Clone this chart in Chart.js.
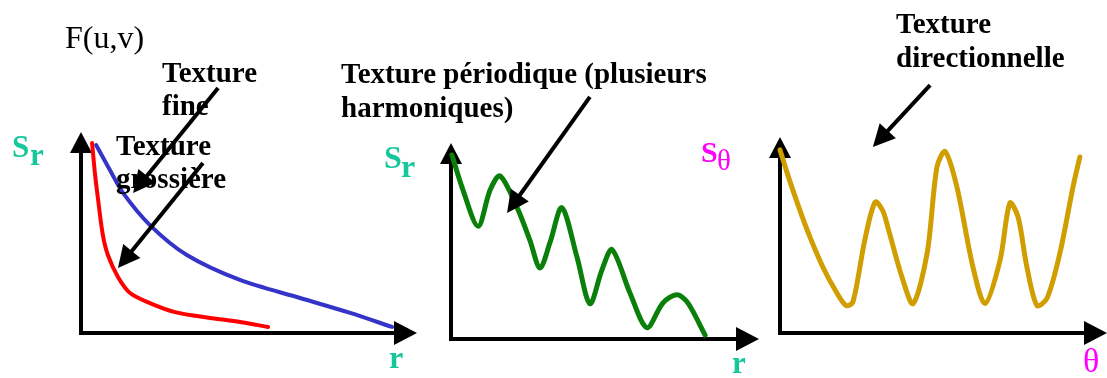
<!DOCTYPE html>
<html>
<head>
<meta charset="utf-8">
<script src="https://cdn.jsdelivr.net/npm/chart.js@4.4.1/dist/chart.umd.min.js"></script>
<style>
  html, body { margin: 0; padding: 0; background: #fff; }
  #wrap { position: relative; width: 1107px; height: 378px; overflow: hidden; }
  canvas { position: absolute; left: 0; top: 0; }
  #notes { z-index: 5; }
  .lbl { position: absolute; z-index: 3; font-family: "Liberation Serif", "Times New Roman", serif;
         font-weight: bold; font-size: 29px; line-height: 33px; color: #000; white-space: nowrap; }
  .sym { position: absolute; z-index: 3; font-family: "Liberation Serif", "Times New Roman", serif;
         font-weight: bold; line-height: 1; white-space: nowrap; }
  .teal { color: #17c79c; }
  .mag { color: #ff00ff; }
</style>
</head>
<body>
<div id="wrap">
  <canvas id="c1" width="1107" height="378"></canvas>
  <canvas id="c2" width="1107" height="378"></canvas>
  <canvas id="c3" width="1107" height="378"></canvas>
  <canvas id="notes" width="1107" height="378"></canvas>

  <div class="sym" style="left:65px; top:21px; font-size:32px; font-weight:normal;">F(u,v)</div>
  <div class="lbl" style="left:162px; top:56px;">Texture<br>fine</div>
  <div class="lbl" style="left:116px; top:129px;">Texture<br>grossière</div>
  <div class="lbl" style="left:341px; top:56px; line-height:34px;">Texture périodique (plusieurs<br>harmoniques)</div>
  <div class="lbl" style="left:896px; top:6px; line-height:34px;">Texture<br>directionnelle</div>

  <div class="sym teal" style="left:12px; top:131px; font-size:31px;">S</div>
  <div class="sym teal" style="left:30px; top:139px; font-size:31px;">r</div>
  <div class="sym teal" style="left:389px; top:341px; font-size:32px;">r</div>

  <div class="sym teal" style="left:384px; top:141px; font-size:32px;">S</div>
  <div class="sym teal" style="left:401px; top:150px; font-size:32px;">r</div>
  <div class="sym teal" style="left:732px; top:347px; font-size:31px;">r</div>

  <div class="sym mag" style="left:701px; top:137px; font-size:30px;">S</div>
  <div class="sym mag" style="left:717px; top:146px; font-size:29px; font-weight:normal;">θ</div>
  <div class="sym mag" style="left:1083px; top:344px; font-size:34px; font-weight:normal;">θ</div>
</div>

<script>
// Panel 1 : radial spectrum, fine vs coarse texture
const fineR = [4.5, 8.6, 12.5, 20.5, 31.5, 47.3, 65.2, 80.1, 92.6];
const fineS = [93.5, 81.1, 69.7, 53.7, 38.8, 26.4, 17.4, 10.0, 3.0];
const coarseR = [3.3, 4.2, 5.1, 6.5, 8.0, 11.0, 14.6, 20.5, 28.0, 38.4, 47.3, 55.7];
const coarseS = [94.5, 78.6, 66.2, 48.8, 38.8, 27.9, 19.9, 14.9, 10.4, 7.5, 5.5, 3.0];

// Panel 2 : periodic texture (several harmonics)
const periodR = [0.3, 3.9, 8.8, 12.7, 15.9, 21.4, 25.6, 28.9, 32.1, 36.0, 40.9, 45.1, 49.0, 52.3, 58.1, 63.6, 68.8, 73.4, 76.9, 82.5];
const periodS = [93.9, 76.0, 57.5, 76.0, 83.2, 67.3, 50.5, 36.2, 49.0, 67.0, 41.8, 18.0, 35.2, 45.6, 23.5, 5.8, 18.4, 22.6, 18.4, 2.0];

// Panel 3 : directional texture, angular spectrum
const dirTheta = [0, 3.1, 8.3, 13.1, 17.4, 20.2, 22.3, 26.0, 29.1, 31.4, 33.2, 37.3, 40.7, 45.0, 48.0, 50.5, 54.1, 59.0, 62.7, 67.3, 70.3, 72.8, 75.5, 78.6, 81.7, 85.6, 89.6, 91.7];
const dirS = [93.4, 77.0, 52.6, 33.7, 20.4, 14.0, 15.8, 48.0, 66.8, 62.5, 52.6, 28.6, 15.0, 40.8, 84.7, 92.6, 74.5, 33.7, 15.0, 37.2, 66.3, 59.2, 33.7, 14.0, 17.9, 40.8, 74.5, 89.8];

const pts = (xs, ys) => xs.map((x, i) => ({ x: x, y: ys[i] }));

function arrowHead(ctx, x1, y1, x2, y2, len, half) {
  const a = Math.atan2(y2 - y1, x2 - x1);
  const bx = x2 - len * Math.cos(a), by = y2 - len * Math.sin(a);
  ctx.beginPath();
  ctx.moveTo(x2, y2);
  ctx.lineTo(bx + half * Math.sin(a), by - half * Math.cos(a));
  ctx.lineTo(bx - half * Math.sin(a), by + half * Math.cos(a));
  ctx.closePath();
  ctx.fill();
}

// axes drawn as black arrows along the chart area edges
const axisArrows = {
  id: 'axisArrows',
  beforeDatasetsDraw(chart) {
    const { ctx, chartArea: a } = chart;
    ctx.save();
    ctx.strokeStyle = '#000';
    ctx.fillStyle = '#000';
    ctx.lineWidth = 4;
    ctx.beginPath();
    ctx.moveTo(a.left, a.top + 12);
    ctx.lineTo(a.left, a.bottom);
    ctx.lineTo(a.right - 12, a.bottom);
    ctx.stroke();
    arrowHead(ctx, a.left, a.bottom, a.left, a.top, 21, 11);
    arrowHead(ctx, a.left, a.bottom, a.right, a.bottom, 23, 12);
    ctx.restore();
  }
};

function makePanel(id, pad, datasets) {
  return new Chart(document.getElementById(id), {
    type: 'line',
    data: { datasets: datasets },
    options: {
      responsive: false,
      animation: false,
      events: [],
      layout: { padding: pad },
      plugins: { legend: { display: false }, tooltip: { enabled: false } },
      elements: { point: { radius: 0 }, line: { capBezierPoints: false } },
      scales: {
        x: { type: 'linear', min: 0, max: 100, display: false },
        y: { type: 'linear', min: 0, max: 100, display: false }
      }
    },
    plugins: [axisArrows]
  });
}

const lineStyle = (color, w, t) => ({
  borderColor: color,
  borderWidth: w,
  tension: t,
  fill: false,
  clip: false,
  borderCapStyle: 'round',
  borderJoinStyle: 'round'
});

const p1 = makePanel('c1', { left: 81, right: 690, top: 132, bottom: 45 }, [
  Object.assign({ data: pts(fineR, fineS) }, lineStyle('#3434c8', 4, 0.3)),
  Object.assign({ data: pts(coarseR, coarseS) }, lineStyle('#ff0000', 4, 0.3))
]);
const p2 = makePanel('c2', { left: 451, right: 348, top: 143, bottom: 39 }, [
  Object.assign({ data: pts(periodR, periodS) }, lineStyle('#0a800a', 5, 0.3))
]);
const p3 = makePanel('c3', { left: 780, right: 0, top: 137, bottom: 45 }, [
  Object.assign({ data: pts(dirTheta, dirS) }, lineStyle('#d09e00', 5, 0.3))
]);

// pointer arrows from the labels to the curves (in each panel's units)
const pointers = [
  { chart: p1, from: [40.8, 121.9], to: [15.5, 69.7] },
  { chart: p1, from: [36.3, 84.6], to: [11.0, 32.3] },
  { chart: p2, from: [45.1, 123.5], to: [18.2, 64.3] },
  { chart: p3, from: [45.9, 126.5], to: [28.4, 94.9] }
];

const nctx = document.getElementById('notes').getContext('2d');
nctx.strokeStyle = '#000';
nctx.fillStyle = '#000';
nctx.lineWidth = 4;
pointers.forEach(p => {
  const sx = p.chart.scales.x, sy = p.chart.scales.y;
  const x1 = sx.getPixelForValue(p.from[0]), y1 = sy.getPixelForValue(p.from[1]);
  const x2 = sx.getPixelForValue(p.to[0]), y2 = sy.getPixelForValue(p.to[1]);
  const a = Math.atan2(y2 - y1, x2 - x1);
  nctx.beginPath();
  nctx.moveTo(x1, y1);
  nctx.lineTo(x2 - 15 * Math.cos(a), y2 - 15 * Math.sin(a));
  nctx.stroke();
  arrowHead(nctx, x1, y1, x2, y2, 22, 11);
});
</script>
</body>
</html>
